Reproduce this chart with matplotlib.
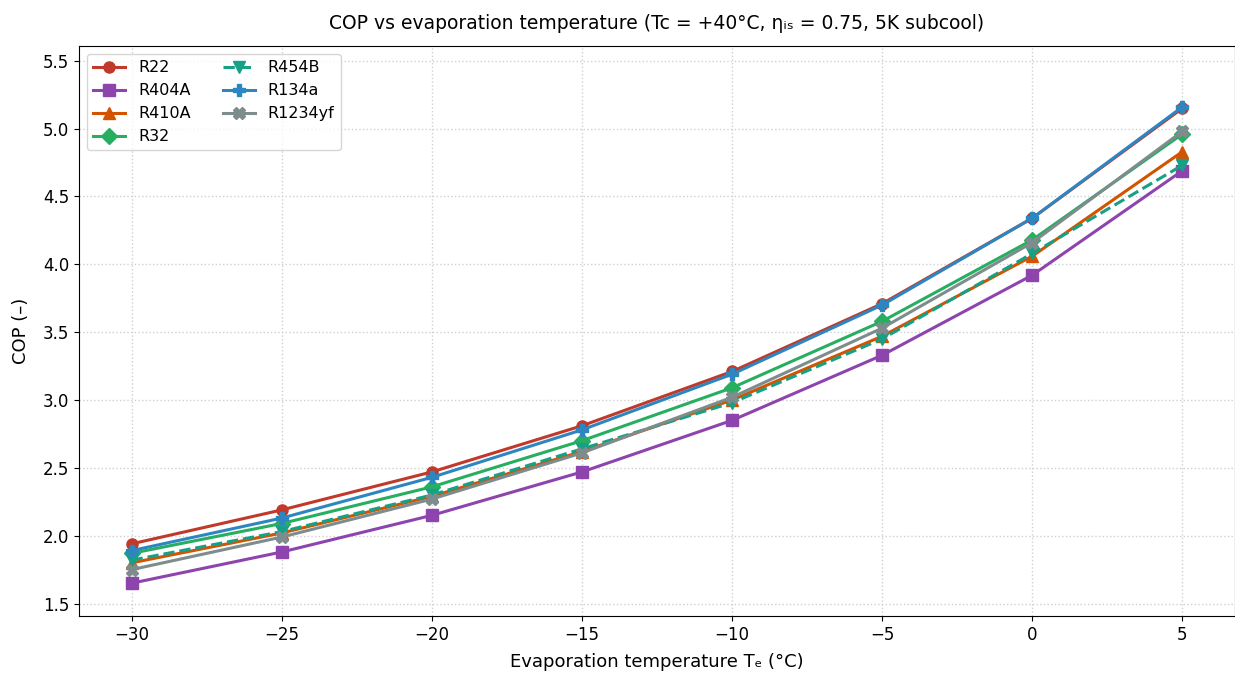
import matplotlib
matplotlib.use("Agg")
import matplotlib.pyplot as plt

te = [-30, -25, -20, -15, -10, -5, 0, 5]

cop_r22 = [1.94, 2.19, 2.47, 2.81, 3.21, 3.71, 4.34, 5.15]
cop_r404a = [1.65, 1.88, 2.15, 2.47, 2.85, 3.33, 3.92, 4.69]
cop_r410a = [1.80, 2.02, 2.29, 2.62, 3.00, 3.47, 4.06, 4.83]
cop_r32 = [1.87, 2.09, 2.36, 2.70, 3.09, 3.58, 4.18, 4.96]
cop_r454b = [1.82, 2.03, 2.30, 2.64, 2.98, 3.45, 4.08, 4.73]
cop_r134a = [1.89, 2.13, 2.43, 2.78, 3.19, 3.70, 4.34, 5.16]
cop_r1234yf = [1.75, 1.99, 2.27, 2.61, 3.02, 3.53, 4.16, 4.98]

series = [
    ("R22", cop_r22, "#c0392b", "o", "-"),
    ("R404A", cop_r404a, "#8e44ad", "s", "-"),
    ("R410A", cop_r410a, "#d35400", "^", "-"),
    ("R32", cop_r32, "#27ae60", "D", "-"),
    ("R454B", cop_r454b, "#16a085", "v", "--"),
    ("R134a", cop_r134a, "#2e86c1", "P", "-"),
    ("R1234yf", cop_r1234yf, "#7f8c8d", "X", "-"),
]

fig, ax = plt.subplots(figsize=(12.35, 6.73), dpi=100)
fig.subplots_adjust(left=0.064, right=1.0, top=0.932, bottom=0.085)
for name, vals, color, marker, ls in series:
    ax.plot(te, vals, color=color, marker=marker, linestyle=ls,
            linewidth=2.2, markersize=8, label=name)

ax.set_ylim(1.41, 5.61)
ax.set_title("COP vs evaporation temperature (Tc = +40°C, ηᵢₛ = 0.75, 5K subcool)",
             fontsize=13.5, pad=12)
ax.set_xlabel("Evaporation temperature Tₑ (°C)", fontsize=13, labelpad=7)
ax.set_ylabel("COP (–)", fontsize=13, labelpad=9)
ax.tick_params(labelsize=12)
ax.grid(True, linestyle=":", color="#d0d0d0", linewidth=1)
ax.legend(loc="upper left", ncol=2, fontsize=11.5)
fig.savefig("out.png", dpi=100)
